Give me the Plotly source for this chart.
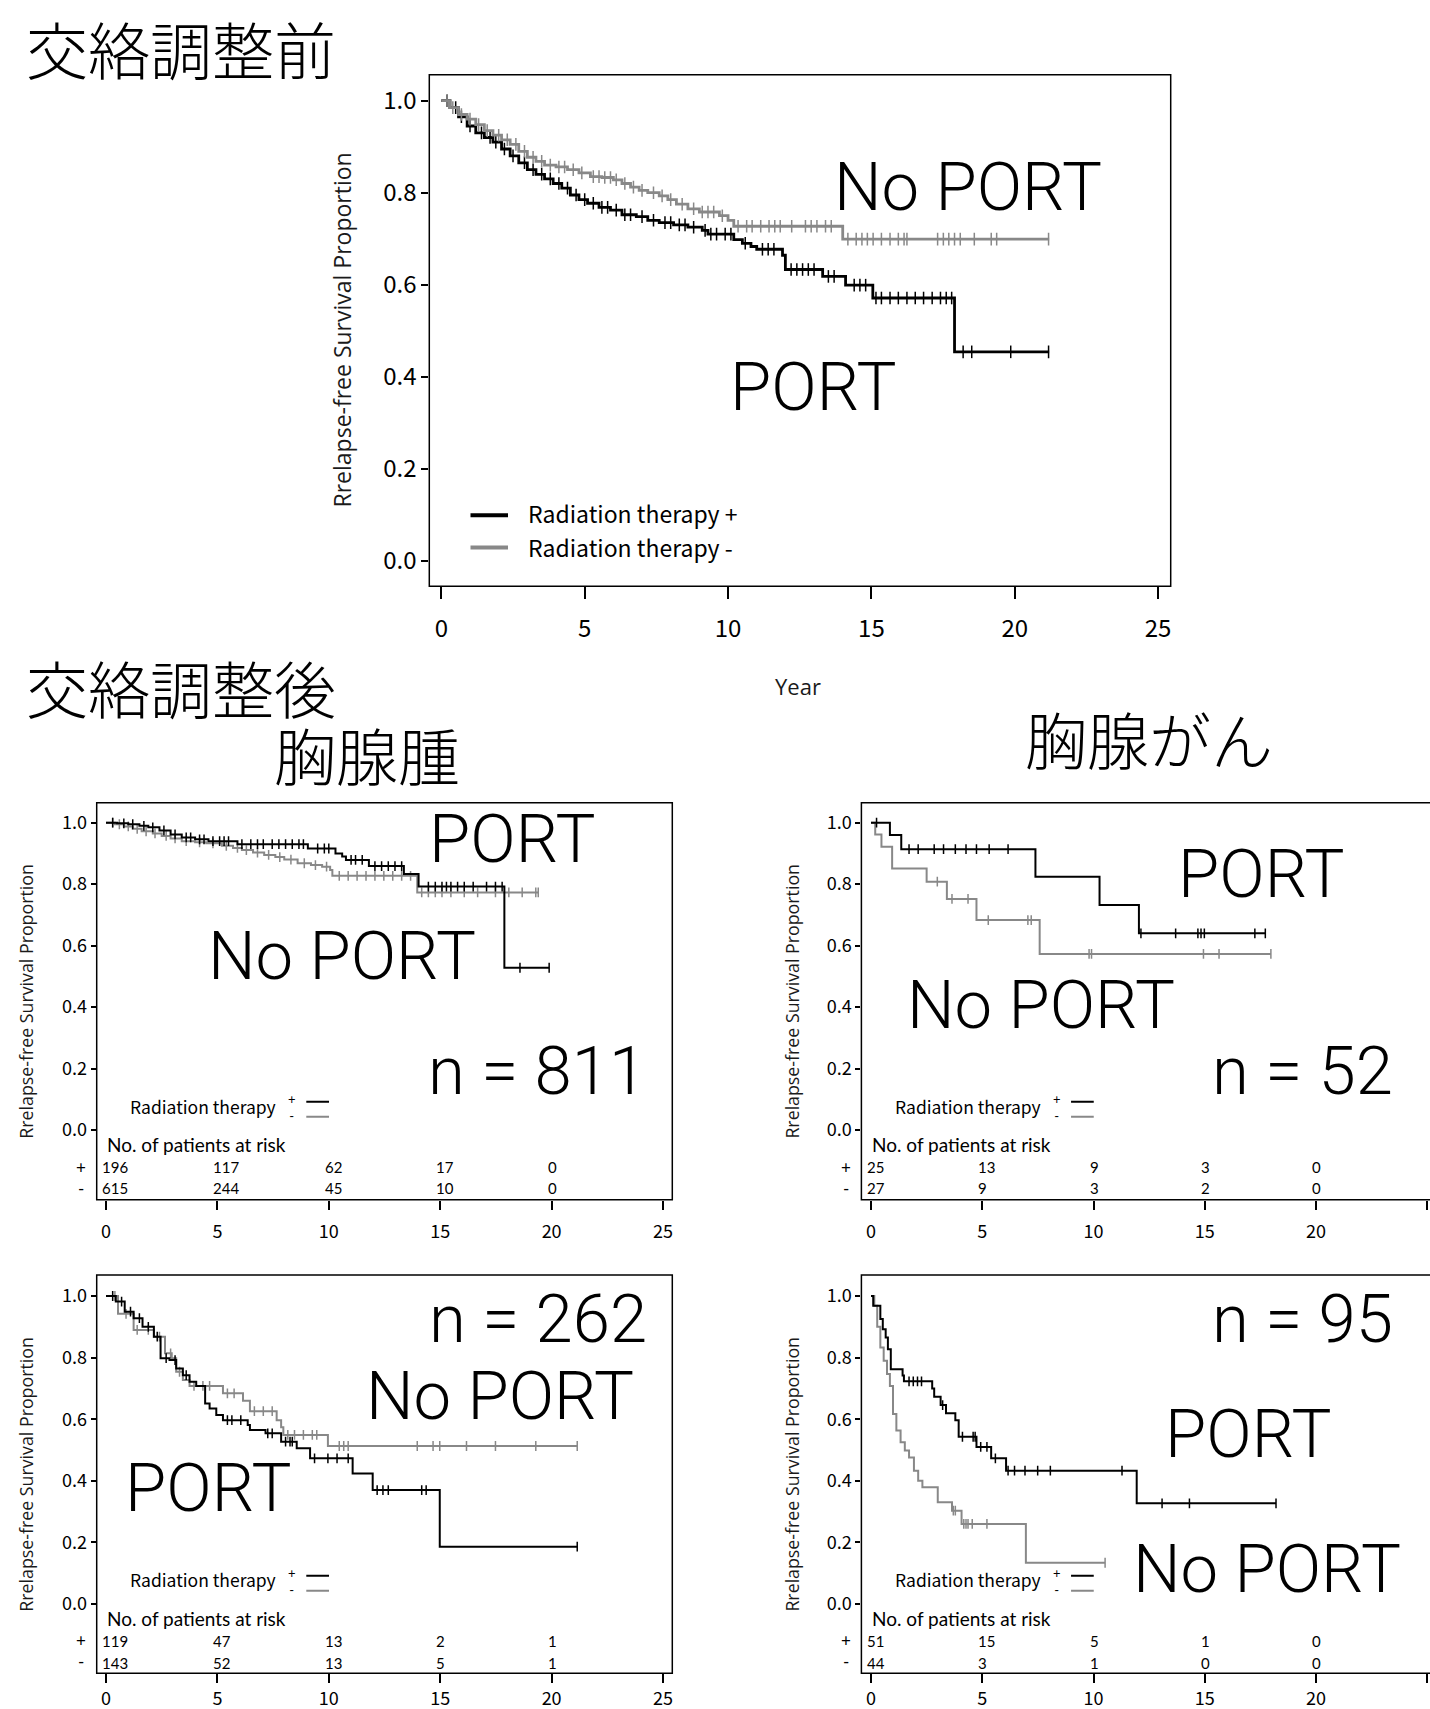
import numpy as np
import plotly.graph_objects as go

W, H = 1430, 1709

# ---------------- data ----------------
year_ticks = [0, 5, 10, 15, 20, 25]
surv_ticks = [0.0, 0.2, 0.4, 0.6, 0.8, 1.0]
surv_ticktext = ["0.0", "0.2", "0.4", "0.6", "0.8", "1.0"]
risk_times = [0, 5, 10, 15, 20]

# Top: before adjustment (all patients)
top_pos_t = [0, 0.3, 0.6, 0.9, 1.2, 1.5, 1.8, 2.1, 2.4, 2.7, 3.0, 3.3, 3.6, 3.9, 4.2, 4.5, 4.8, 5.1, 5.5,
             5.9, 6.3, 6.8, 7.2, 7.6, 8.1, 8.6, 9.1, 9.3, 10.2, 10.5, 10.8, 11.0, 11.9, 12.0, 13.3, 14.1,
             15.05, 17.9]
top_pos_s = [1.0, 0.985, 0.965, 0.945, 0.93, 0.92, 0.91, 0.895, 0.88, 0.865, 0.85, 0.84, 0.83, 0.82, 0.81,
             0.795, 0.785, 0.777, 0.768, 0.762, 0.752, 0.748, 0.74, 0.735, 0.73, 0.725, 0.718, 0.71, 0.698,
             0.69, 0.683, 0.677, 0.664, 0.633, 0.618, 0.599, 0.571, 0.454]
top_pos_end = 21.2
top_pos_cens = [0.2, 0.5, 0.7, 1.0, 1.4, 1.7, 1.9, 2.2, 2.5, 2.9, 3.2, 3.5, 3.8, 4.1, 4.4, 4.7, 5.0, 5.3, 5.6,
                5.8, 6.1, 6.4, 6.6, 7.0, 7.4, 7.8, 8.0, 8.3, 8.5, 8.8, 9.2, 9.4, 9.6, 9.9, 10.1, 10.6, 11.2,
                11.4, 11.6, 12.2, 12.4, 12.6, 12.8, 13.0, 13.5, 13.7, 14.4, 14.6, 14.8, 15.16, 15.35, 15.65,
                15.94, 16.24, 16.53, 16.82, 17.12, 17.41, 17.61, 17.8, 18.2, 18.5, 19.86, 21.18]
top_neg_t = [0, 0.3, 0.6, 0.9, 1.2, 1.5, 1.8, 2.1, 2.4, 2.7, 3.0, 3.3, 3.6, 4.0, 4.4, 4.8, 5.2, 5.6, 6.0,
             6.3, 6.6, 6.9, 7.2, 7.6, 7.9, 8.2, 8.6, 9.0, 9.7, 10.0, 10.2, 14.0]
top_neg_s = [1.0, 0.985, 0.97, 0.96, 0.948, 0.935, 0.925, 0.915, 0.905, 0.89, 0.877, 0.868, 0.86, 0.856,
             0.85, 0.843, 0.835, 0.833, 0.828, 0.82, 0.812, 0.805, 0.8, 0.793, 0.785, 0.775, 0.765, 0.758,
             0.75, 0.74, 0.727, 0.699]
top_neg_end = 21.2
top_neg_cens = [0.2, 0.4, 0.7, 1.0, 1.3, 1.6, 2.0, 2.3, 2.6, 2.9, 3.2, 3.5, 3.8, 4.1, 4.3, 4.6, 4.9, 5.3,
                5.5, 5.7, 5.9, 6.1, 6.4, 6.7, 7.0, 7.4, 7.7, 8.0, 8.4, 8.8, 9.1, 9.3, 9.5, 9.8, 10.35,
                10.65, 10.84, 11.14, 11.43, 11.63, 11.82, 12.22, 12.7, 12.9, 13.1, 13.4, 13.6, 14.18, 14.47,
                14.67, 14.86, 15.06, 15.35, 15.65, 15.94, 16.14, 16.24, 17.31, 17.51, 17.7, 17.9, 18.1,
                18.59, 19.18, 19.37, 21.18]

# A: thymoma, n = 811
a_pos_t = [0, 0.5, 1.0, 1.5, 1.9, 2.4, 2.9, 3.4, 4.0, 4.6, 5.9, 9.06, 10.3, 10.6, 10.77, 11.8, 13.37,
           14.03, 17.88]
a_pos_s = [1.0, 0.998, 0.995, 0.99, 0.985, 0.975, 0.962, 0.952, 0.946, 0.94, 0.93, 0.916, 0.9, 0.89,
           0.879, 0.859, 0.833, 0.792, 0.528]
a_pos_end = 19.89
a_pos_cens = [0.3, 0.8, 1.2, 1.7, 2.1, 2.6, 3.1, 3.6, 3.8, 4.2, 4.4, 4.8, 5.1, 5.3, 5.5, 6.1, 6.5, 6.8,
              7.06, 7.46, 7.76, 8.06, 8.36, 8.66, 8.86, 9.5, 9.8, 10.0, 11.0, 11.2, 11.5, 12.07, 12.37,
              12.67, 12.97, 13.27, 14.47, 14.78, 15.08, 15.28, 15.48, 15.78, 16.08, 16.48, 17.08, 17.48,
              17.78, 18.58, 19.89]
a_neg_t = [0, 0.4, 0.8, 1.2, 1.6, 2.1, 2.5, 2.9, 3.4, 4.0, 4.5, 5.2, 5.7, 6.1, 6.6, 7.1, 7.6, 8.0, 8.6,
           9.2, 9.7, 10.06, 10.16, 13.97]
a_neg_s = [1.0, 0.995, 0.988, 0.98, 0.972, 0.965, 0.957, 0.949, 0.94, 0.936, 0.933, 0.925, 0.918, 0.911,
           0.903, 0.895, 0.888, 0.88, 0.868, 0.862, 0.857, 0.846, 0.827, 0.773]
a_neg_end = 19.4
a_neg_cens = [0.3, 0.6, 1.0, 1.4, 1.8, 2.2, 2.7, 3.1, 3.6, 4.2, 4.8, 5.4, 5.9, 6.3, 6.8, 7.3, 7.8, 8.3,
              8.9, 9.4, 9.9, 10.47, 10.87, 11.27, 11.67, 12.07, 12.47, 12.87, 13.27, 13.67, 14.17, 14.47,
              14.78, 15.08, 15.48, 16.08, 16.68, 17.48, 18.08, 18.68, 19.29, 19.4]
a_risk_pos = [196, 117, 62, 17, 0]
a_risk_neg = [615, 244, 45, 10, 0]

# B: thymic carcinoma, n = 52
b_pos_t = [0, 0.85, 1.36, 7.39, 10.27, 12.04]
b_pos_s = [1.0, 0.96, 0.914, 0.824, 0.732, 0.64]
b_pos_end = 17.72
b_pos_cens = [0.25, 1.71, 2.12, 2.84, 3.26, 3.79, 4.27, 4.74, 5.31, 6.16, 12.13, 13.69, 14.69, 14.83,
              14.98, 17.25, 17.72]
b_neg_t = [0, 0.19, 0.47, 0.95, 2.5, 3.41, 4.74, 7.58]
b_neg_s = [1.0, 0.962, 0.922, 0.851, 0.808, 0.752, 0.683, 0.573]
b_neg_end = 17.97
b_neg_cens = [2.98, 3.64, 4.36, 5.27, 7.05, 7.2, 9.8, 9.91, 14.94, 15.64, 17.97]
b_risk_pos = [25, 13, 9, 3, 0]
b_risk_neg = [27, 9, 3, 2, 0]

# C: thymoma, n = 262
c_pos_t = [0, 0.44, 0.84, 1.24, 1.64, 2.15, 2.45, 2.85, 3.15, 3.45, 3.75, 4.05, 4.45, 4.65, 4.95, 5.25,
           6.36, 6.46, 7.16, 7.86, 8.56, 9.16, 11.07, 11.97, 14.98]
c_pos_s = [1.0, 0.982, 0.949, 0.928, 0.9, 0.868, 0.798, 0.792, 0.765, 0.743, 0.722, 0.708, 0.651, 0.635,
           0.614, 0.597, 0.581, 0.565, 0.554, 0.527, 0.506, 0.473, 0.424, 0.37, 0.186]
c_pos_end = 21.15
c_pos_cens = [0.3, 0.7, 1.1, 1.5, 1.9, 2.3, 2.7, 3.1, 3.6, 5.45, 5.65, 6.05, 7.26, 7.46, 8.06, 8.26, 8.36,
              9.36, 9.96, 10.37, 10.87, 12.17, 12.43, 12.67, 14.17, 14.37, 21.15]
c_neg_t = [0, 0.54, 1.24, 2.15, 2.65, 2.95, 3.15, 3.45, 3.75, 5.25, 6.15, 6.46, 7.66, 7.86, 7.96, 9.96]
c_neg_s = [1.0, 0.942, 0.89, 0.868, 0.814, 0.798, 0.754, 0.727, 0.708, 0.684, 0.66, 0.626, 0.597, 0.574,
           0.549, 0.513]
c_neg_end = 21.15
c_neg_cens = [0.4, 0.9, 1.4, 1.9, 2.4, 2.9, 3.3, 3.95, 4.35, 4.65, 5.45, 5.75, 6.66, 7.06, 7.46, 8.16,
              8.46, 8.86, 9.26, 9.46, 10.47, 10.67, 10.87, 13.97, 14.68, 14.98, 16.18, 17.48, 19.29, 21.15]
c_risk_pos = [119, 47, 13, 2, 1]
c_risk_neg = [143, 52, 13, 5, 1]

# D: thymic carcinoma, n = 95
d_pos_t = [0, 0.1, 0.42, 0.53, 0.66, 0.76, 0.89, 1.42, 1.48, 2.75, 2.84, 3.13, 3.37, 3.79, 3.94, 4.74,
           5.4, 6.07, 11.94]
d_pos_s = [1.0, 0.968, 0.925, 0.892, 0.865, 0.827, 0.762, 0.742, 0.723, 0.7, 0.673, 0.646, 0.619, 0.597,
           0.543, 0.51, 0.473, 0.433, 0.327]
d_pos_end = 18.2
d_pos_cens = [1.71, 1.9, 2.09, 2.27, 3.22, 4.11, 4.59, 4.68, 4.93, 5.21, 5.59, 6.16, 6.45, 6.92, 7.49,
              8.06, 11.28, 13.08, 14.31, 18.2]
d_neg_t = [0, 0.15, 0.28, 0.42, 0.57, 0.72, 0.85, 0.99, 1.14, 1.33, 1.52, 1.71, 1.93, 2.12, 2.31, 3.0,
           3.64, 4.07, 6.96]
d_neg_s = [1.0, 0.968, 0.9, 0.833, 0.79, 0.747, 0.708, 0.617, 0.563, 0.525, 0.498, 0.476, 0.433, 0.4,
           0.379, 0.33, 0.303, 0.26, 0.134]
d_neg_end = 10.52
d_neg_cens = [3.7, 3.79, 4.17, 4.27, 4.36, 4.55, 5.21, 10.52]
d_risk_pos = [51, 15, 5, 1, 0]
d_risk_neg = [44, 3, 1, 0, 0]

# ---------------- styling ----------------
BLACK = "#000000"
GRAY = "#888888"
JP = "Noto Sans CJK JP"
SANS = "Open Sans"
LAT = "Lato"
BIG = "Roboto"


def px_x(p):
    return p / W


def px_y(p):
    return 1 - p / H


fig = go.Figure()


def add_km(t, s, t_end, cens, color, width, xa, ya, msize):
    xs = list(t) + [t_end]
    ys = list(s) + [s[-1]]
    fig.add_trace(go.Scatter(x=xs, y=ys, mode="lines", line=dict(color=color, width=width, shape="hv"),
                             xaxis=xa, yaxis=ya, showlegend=False, hoverinfo="skip"))
    idx = np.searchsorted(np.array(t), np.array(cens), side="right") - 1
    cy = np.array(s)[idx]
    fig.add_trace(go.Scatter(x=cens, y=cy, mode="markers",
                             marker=dict(symbol="line-ns", size=msize, color=color,
                                         line=dict(color=color, width=1.5)),
                             xaxis=xa, yaxis=ya, showlegend=False, hoverinfo="skip"))


add_km(top_pos_t, top_pos_s, top_pos_end, top_pos_cens, BLACK, 2.8, "x", "y", 9)
add_km(top_neg_t, top_neg_s, top_neg_end, top_neg_cens, GRAY, 2.8, "x", "y", 9)
panels = [
    ("x2", "y2", a_pos_t, a_pos_s, a_pos_end, a_pos_cens, a_neg_t, a_neg_s, a_neg_end, a_neg_cens, a_risk_pos, a_risk_neg),
    ("x3", "y3", b_pos_t, b_pos_s, b_pos_end, b_pos_cens, b_neg_t, b_neg_s, b_neg_end, b_neg_cens, b_risk_pos, b_risk_neg),
    ("x4", "y4", c_pos_t, c_pos_s, c_pos_end, c_pos_cens, c_neg_t, c_neg_s, c_neg_end, c_neg_cens, c_risk_pos, c_risk_neg),
    ("x5", "y5", d_pos_t, d_pos_s, d_pos_end, d_pos_cens, d_neg_t, d_neg_s, d_neg_end, d_neg_cens, d_risk_pos, d_risk_neg),
]
for (xa, ya, pt, ps, pe, pc, nt, ns, ne, nc, rp, rn) in panels:
    add_km(nt, ns, ne, nc, GRAY, 2.0, xa, ya, 7)
    add_km(pt, ps, pe, pc, BLACK, 2.0, xa, ya, 7)


# ---------------- axes ----------------
def xaxis_cfg(dom_px, rng, anchor, fsize, ticklen, standoff):
    return dict(domain=[px_x(dom_px[0]), px_x(dom_px[1])], range=rng, anchor=anchor,
                tickvals=year_ticks, ticks="outside", ticklen=ticklen, tickwidth=1.5, tickcolor=BLACK,
                showgrid=False, zeroline=False, showline=False, ticklabelstandoff=standoff,
                tickfont=dict(family=JP, size=fsize, color=BLACK))


def yaxis_cfg(dom_px, rng, anchor, fsize, ticklen):
    return dict(domain=[px_y(dom_px[1]), px_y(dom_px[0])], range=rng, anchor=anchor,
                tickvals=surv_ticks, ticktext=surv_ticktext, ticks="outside", ticklen=ticklen,
                tickwidth=1.5, tickcolor=BLACK, showgrid=False, zeroline=False, showline=False,
                tickfont=dict(family=JP, size=fsize, color=BLACK))


layout = dict(width=W, height=H, margin=dict(l=0, r=0, t=0, b=0), plot_bgcolor="white",
              paper_bgcolor="white", showlegend=False)
layout["xaxis"] = xaxis_cfg((429.3, 1170.7), [-0.42, 25.44], "y", 24, 12, 9)
layout["yaxis"] = yaxis_cfg((74.7, 586.3), [-0.0557, 1.0565], "x", 24, 7)
left_x = (96.7, 672.3)
right_x = (861.4, 1430)
upper_y = (802.7, 1199.7)
lower_y = (1275, 1673.3)
lx_rng = [-0.417, 25.417]
rx_rng = [-0.431, 25.12]
uy_rng = [-0.2268, 1.0651]
ly_rng = [-0.225, 1.0682]
for i, (xd, xr, yd, yr, so) in zip([2, 3, 4, 5], [(left_x, lx_rng, upper_y, uy_rng, 7),
                                                 (right_x, rx_rng, upper_y, uy_rng, 7),
                                                 (left_x, lx_rng, lower_y, ly_rng, 0),
                                                 (right_x, rx_rng, lower_y, ly_rng, 0)]):
    layout[f"xaxis{i}"] = xaxis_cfg(xd, xr, f"y{i}", 18, 9, so)
    layout[f"yaxis{i}"] = yaxis_cfg(yd, yr, f"x{i}", 18, 5)
fig.update_layout(**layout)

shapes = []
annots = []
# boxes
shapes.append(dict(type="rect", xref="x domain", yref="y domain", x0=0, x1=1, y0=0, y1=1,
                   line=dict(color=BLACK, width=1.5)))
for i in [2, 3, 4, 5]:
    x1 = 1.0 if i in (2, 4) else 1.05
    shapes.append(dict(type="rect", xref=f"x{i} domain", yref=f"y{i} domain", x0=0, x1=x1, y0=0, y1=1,
                       line=dict(color=BLACK, width=1.5)))

# top legend
for yy, dy, col, lab in [(515.3, -2.5, BLACK, "Radiation therapy +"), (547.5, -0.5, GRAY, "Radiation therapy -")]:
    shapes.append(dict(type="line", xref="paper", yref="paper", x0=px_x(470.5), x1=px_x(508),
                       y0=px_y(yy), y1=px_y(yy), line=dict(color=col, width=4)))
    annots.append(dict(text=lab, x=px_x(526), y=px_y(yy + dy), xref="paper", yref="paper",
                       xanchor="left", yanchor="middle", showarrow=False,
                       font=dict(family=JP, size=23, color=BLACK)))

# panel legends and risk tables
panel_px = {"x2": (81, 0.0), "x3": (845.9, 0.0), "x4": (81, 473.5), "x5": (845.9, 473.5)}
for (xa, ya, *_rest) in panels:
    rp, rn = _rest[-2], _rest[-1]
    annots.append(dict(text="Radiation therapy", x=1.0, y=0.078, xref=xa, yref=ya, xanchor="left",
                       yanchor="middle", showarrow=False, font=dict(family=JP, size=17.5, color=BLACK)))
    annots.append(dict(text="+<br>-", x=8.37, y=0.073, xref=xa, yref=ya, xanchor="center",
                       yanchor="middle", showarrow=False, font=dict(family=LAT, size=13, color=BLACK)))
    shapes.append(dict(type="line", xref=xa, yref=ya, x0=8.99, x1=10.01, y0=0.092, y1=0.092,
                       line=dict(color=BLACK, width=2)))
    shapes.append(dict(type="line", xref=xa, yref=ya, x0=8.99, x1=10.01, y0=0.043, y1=0.043,
                       line=dict(color=GRAY, width=2)))
    annots.append(dict(text="No. of patients at risk", x=-0.06, y=-0.048, xref=xa, yref=ya,
                       xanchor="left", yanchor="middle", showarrow=False,
                       font=dict(family=LAT, size=19, color=BLACK)))
    sx, dy = panel_px[xa]
    for sign, yy, ypx, vals in [("+", -0.121, 1167.3, rp), ("-", -0.19, 1188.3, rn)]:
        annots.append(dict(text=sign, x=px_x(sx), y=px_y(ypx + dy), xref="paper", yref="paper",
                           xanchor="center", yanchor="middle", showarrow=False,
                           font=dict(family=LAT, size=17, color=BLACK)))
        for tt, v in zip(risk_times, vals):
            annots.append(dict(text=str(v), x=tt - 0.27, y=yy, xref=xa, yref=ya, xanchor="left",
                               yanchor="middle", showarrow=False,
                               font=dict(family=LAT, size=15, color=BLACK)))

# big labels (px centres of capitals)
big = [
    ("No PORT", 968.3, 185.5), ("PORT", 813.3, 385.8),
    ("PORT", 512.5, 838.3), ("No PORT", 341.6, 955.0), ("n = 811", 537.0, 1070.0),
    ("PORT", 1261.0, 873.3), ("No PORT", 1041.0, 1004.0), ("n = 52", 1302.0, 1070.0),
    ("n = 262", 537.7, 1317.5), ("No PORT", 499.8, 1395.0), ("PORT", 208.6, 1486.7),
    ("n = 95", 1302.0, 1317.5), ("PORT", 1248.3, 1433.3), ("No PORT", 1267.0, 1568.3),
]
for txt, cx, cy in big:
    annots.append(dict(text=txt, x=px_x(cx), y=px_y(cy + 1), xref="paper", yref="paper",
                       xanchor="center", yanchor="middle", showarrow=False,
                       font=dict(family=BIG, size=67, color=BLACK, weight=300)))

# Japanese headings
heads = [("交絡調整前", 24, 48), ("交絡調整後", 24, 686.5), ("胸腺腫", 367, 754), ("胸腺がん", 1149, 738)]
for txt, hx, hy in heads:
    annots.append(dict(text=txt, x=px_x(hx), y=px_y(hy), xref="paper", yref="paper",
                       xanchor="left" if txt.startswith("交絡") else "center", yanchor="middle",
                       showarrow=False, font=dict(family=JP, size=62, color=BLACK, weight=300)))

# axis titles
ytitle = "Rrelapse-free Survival Proportion"
for tx, ty, fs in [(341, 330.5, 23), (26.5, 1001.2, 17.8), (792.4, 1001.2, 17.8), (26.5, 1474.2, 17.8),
                   (792.4, 1474.2, 17.8)]:
    annots.append(dict(text=ytitle, x=px_x(tx), y=px_y(ty), xref="paper", yref="paper",
                       xanchor="center", yanchor="middle", textangle=-90, showarrow=False,
                       font=dict(family=SANS, size=fs, color="#1a1a1a")))
annots.append(dict(text="Year", x=px_x(797.8), y=px_y(685.5), xref="paper", yref="paper",
                   xanchor="center", yanchor="middle", showarrow=False,
                   font=dict(family=SANS, size=22, color="#1a1a1a")))

fig.update_layout(shapes=shapes, annotations=annots)
post = ("document.documentElement.style.overflow='hidden';"
        "document.body.style.overflow='hidden';"
        "document.body.style.margin='0';"
        "document.querySelectorAll('.plotly-graph-div').forEach(function(d){d.style.overflow='hidden';});")
fig.write_html("out.html", config={"displayModeBar": False}, post_script=post)
